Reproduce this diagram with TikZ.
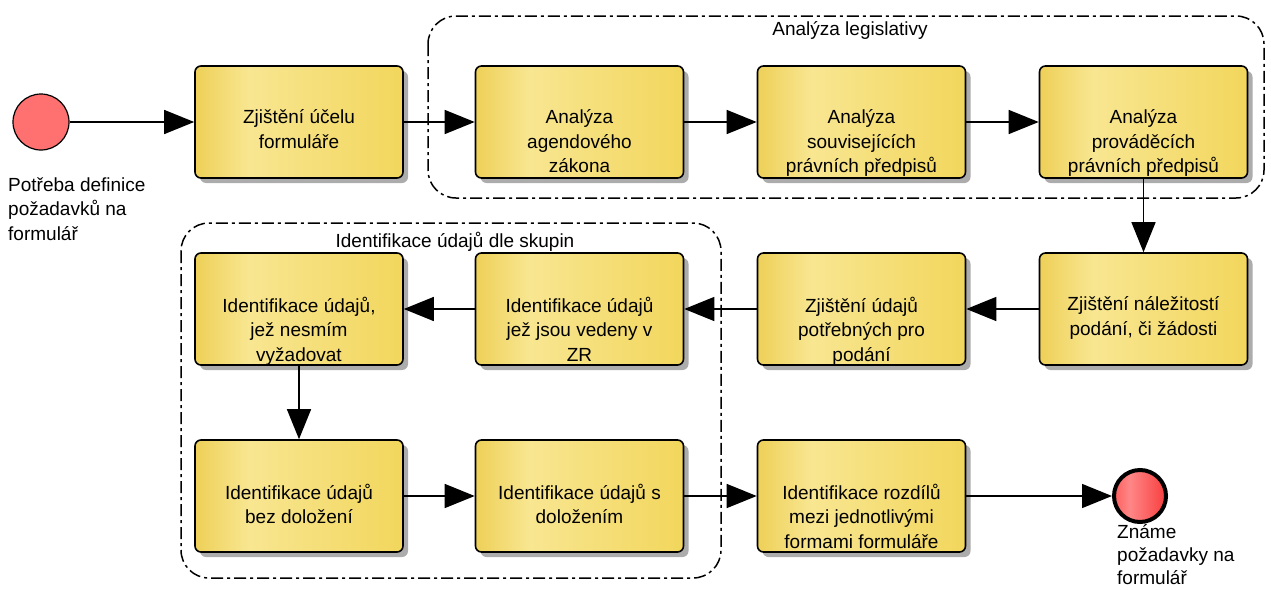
\documentclass[tikz,border=0pt]{standalone}
\usepackage{fontspec}
\setmainfont{Liberation Sans}
\usetikzlibrary{arrows.meta,shadows}
\definecolor{taskleft}{RGB}{238,208,88}
\definecolor{tasklight}{RGB}{248,230,145}
\definecolor{taskright}{RGB}{242,214,92}
\definecolor{startred}{RGB}{255,112,112}
\definecolor{endleft}{RGB}{255,95,95}
\definecolor{endlight}{RGB}{255,135,135}
\definecolor{endright}{RGB}{248,62,62}
\pgfdeclarehorizontalshading{taskfill}{100bp}{color(0bp)=(taskleft); color(25bp)=(taskleft); color(38bp)=(tasklight); color(75bp)=(taskright); color(100bp)=(taskright)}
\pgfdeclarehorizontalshading{endfill}{100bp}{color(0bp)=(endleft); color(25bp)=(endleft); color(40bp)=(endlight); color(75bp)=(endright); color(100bp)=(endright)}
\begin{document}
\begin{tikzpicture}[x=1pt, y=-1pt,
    task/.style = {draw, line width=1.6pt, rounded corners=6pt, shading=taskfill,
      minimum width=208pt, minimum height=112pt,
      drop shadow={shadow xshift=5pt, shadow yshift=-5pt, fill=black!65}},
    tasktext/.style = {align=center, anchor=north, yshift=12.5pt, inner sep=0pt},
    txt/.style = {font=\fontsize{19}{24.5}\selectfont},
    flow/.style = {line width=1.4pt, -{Triangle[length=30pt,width=24pt]}},
    group/.style = {line width=1.5pt, rounded corners=28pt,
      dash pattern=on 12pt off 4pt on 3pt off 4pt},
    every node/.append style = {txt}]
  \useasboundingbox (0,0) rectangle (1271,589);
  % skupiny
  \draw[group] (428,16) rectangle (1264,198);
  \draw[group] (181,223) rectangle (721,578);
  \node (g1) at (850,30) {Analýza legislativy};
  \node (g2) at (455,242) {Identifikace údajů dle skupin};
  % udalosti
  \node[draw, circle, line width=1.2pt, fill=startred, minimum size=56pt, inner sep=0pt] (s) at (41,122) {};
  \node[anchor=north west, align=left, inner sep=0pt] (sl) at (8,177) {Potřeba definice\\požadavků na\\formulář};
  \node[draw, circle, line width=4pt, shading=endfill, minimum size=52pt, inner sep=0pt] (e) at (1140,496) {};
  \node[anchor=north west, align=left, inner sep=0pt, font=\fontsize{19}{23}\selectfont] (el) at (1117,524) {Známe\\požadavky na\\formulář};
  % cinnosti
  \node[task] (1) at (299,122) {};
  \node[task] (2) at (579.5,122) {};
  \node[task] (3) at (861.5,122) {};
  \node[task] (4) at (1143.5,122) {};
  \node[task] (5) at (1143.5,309) {};
  \node[task] (6) at (861.5,309) {};
  \node[task] (7) at (579.5,309) {};
  \node[task] (8) at (299,309) {};
  \node[task] (9) at (299,496) {};
  \node[task] (10) at (579.5,496) {};
  \node[task] (11) at (861.5,496) {};
  % popisky
  \node[tasktext] (t1) at (1) {Zjištění účelu\\formuláře};
  \node[tasktext] (t2) at (2) {Analýza\\agendového\\zákona};
  \node[tasktext] (t3) at (3) {Analýza\\souvisejících\\právních předpisů};
  \node[tasktext] (t4) at (4) {Analýza\\prováděcích\\právních předpisů};
  \node[tasktext] (t5) at (5) {Zjištění náležitostí\\podání, či žádosti};
  \node[tasktext] (t6) at (6) {Zjištění údajů\\potřebných pro\\podání};
  \node[tasktext] (t7) at (7) {Identifikace údajů\\jež jsou vedeny v\\ZR};
  \node[tasktext] (t8) at (8) {Identifikace údajů,\\jež nesmím\\vyžadovat};
  \node[tasktext] (t9) at (9) {Identifikace údajů\\bez doložení};
  \node[tasktext] (t10) at (10) {Identifikace údajů s\\doložením};
  \node[tasktext] (t11) at (11) {Identifikace rozdílů\\mezi jednotlivými\\formami formuláře};
  % tok
  \draw[flow] (s) -- (1);
  \draw[flow] (1) -- (2);
  \draw[flow] (2) -- (3);
  \draw[flow] (3) -- (4);
  \draw[flow] (4) -- (5);
  \draw[flow] (5) -- (6);
  \draw[flow] (6) -- (7);
  \draw[flow] (7) -- (8);
  \draw[flow] (8) -- (9);
  \draw[flow] (9) -- (10);
  \draw[flow] (10) -- (11);
  \draw[flow] (11) -- (e);
\end{tikzpicture}
\end{document}
